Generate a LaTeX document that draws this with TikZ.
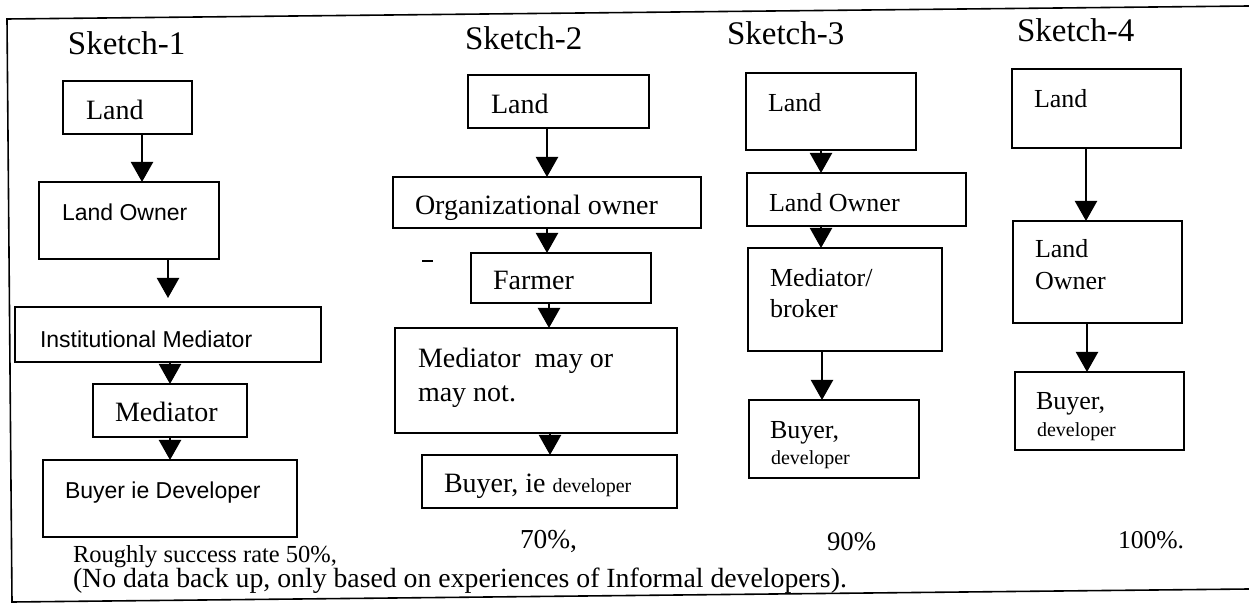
\documentclass[tikz,border=0pt]{standalone}
\usepackage{fontspec}
\setmainfont{Liberation Serif}
\setsansfont{Liberation Sans}
\usetikzlibrary{arrows.meta}
\tikzset{
  box/.style={draw, line width=1.1pt, anchor=north west, inner sep=0pt, outer sep=0pt},
  arr/.style={line width=1.1pt, -{Triangle[width=11pt,length=10pt]}},
  txt/.style={anchor=base west, inner sep=0pt, outer sep=0pt},
  ttl/.style={txt, font=\fontsize{16.5}{19}\selectfont},
  sr/.style={txt, font=\fontsize{14}{16}\selectfont},
  srs/.style={txt, font=\fontsize{13}{15}\selectfont},
  sn/.style={txt, font=\sffamily\fontsize{11.5}{13}\selectfont},
  foot/.style={txt, font=\fontsize{13.5}{15}\selectfont},
}
\newcommand{\dev}{{\fontsize{10}{12}\selectfont developer}}
\begin{document}
\begin{tikzpicture}[x=0.5pt,y=-0.5pt]
\useasboundingbox (0,0) rectangle (1249,604);
% frame
\coordinate (ftr) at (1249,6);
\coordinate (ftl) at (7,19);
\coordinate (fbl) at (12,602);
\coordinate (fbr) at (1249,589);
\draw[line width=0.8pt] (ftr) -- (ftl) -- (fbl) -- (fbr);

% ---------- Sketch-1 ----------
\node[ttl] (t1) at (68,55) {Sketch-1};
\node[box, minimum width=64.5pt, minimum height=26.5pt] (land1) at (63,81) {};
\node[sr] (land1t) at (86,120) {Land};
\node[box, minimum width=90pt, minimum height=38.5pt] (own1) at (39,182) {};
\node[sn] (own1t) at (62,221) {Land Owner};
\node[box, minimum width=153pt, minimum height=27.5pt] (inst1) at (15,307) {};
\node[sn] (inst1t) at (40,348) {Institutional Mediator};
\node[box, minimum width=77pt, minimum height=26.5pt] (med1) at (93,384) {};
\node[sr] (med1t) at (115,422) {Mediator};
\node[box, minimum width=127pt, minimum height=38.5pt] (buy1) at (43,460) {};
\node[sn] (buy1t) at (65,498) {Buyer ie Developer};
\draw[arr] (land1.south -| 142,0) -- (own1.north -| 142,0);
\draw[arr, shorten >=4.5pt] (own1.south -| 168,0) -- (inst1.north -| 168,0);
\draw[arr] (inst1.south -| 170,0) -- (med1.north -| 170,0);
\draw[arr] (med1.south -| 170,0) -- (buy1.north -| 170,0);

% ---------- Sketch-2 ----------
\node[ttl] (t2) at (465,50) {Sketch-2};
\node[box, minimum width=90.5pt, minimum height=26.5pt] (land2) at (468,75) {};
\node[sr] (land2t) at (491,114) {Land};
\node[box, minimum width=154pt, minimum height=25.5pt] (org2) at (393,177) {};
\node[sr] (org2t) at (415,215) {Organizational owner};
\node[box, minimum width=90pt, minimum height=25pt] (farm2) at (471,253) {};
\node[sr] (farm2t) at (493,290) {Farmer};
\node[box, minimum width=141pt, minimum height=52.5pt] (med2) at (395,328) {};
\node[sr] (med2t) at (418,368) {Mediator\ \ may or};
\node[sr] (med2u) at (418,401) {may not.};
\node[box, minimum width=127.5pt, minimum height=26.5pt] (buy2) at (422,455) {};
\node[sr] (buy2t) at (444,493) {Buyer, ie \dev};
\draw[line width=1pt] (422,261) -- (433,261);
\draw[arr] (land2.south -| 547,0) -- (org2.north -| 547,0);
\draw[arr] (org2.south -| 547,0) -- (farm2.north -| 547,0);
\draw[arr] (farm2.south -| 549,0) -- (med2.north -| 549,0);
\draw[arr] (med2.south -| 550,0) -- (buy2.north -| 550,0);

% ---------- Sketch-3 ----------
\node[ttl] (t3) at (727,45) {Sketch-3};
\node[box, minimum width=85pt, minimum height=38.5pt] (land3) at (746,73) {};
\node[srs] (land3t) at (768,112) {Land};
\node[box, minimum width=109.5pt, minimum height=26.5pt] (own3) at (747,173) {};
\node[srs] (own3t) at (769,212) {Land Owner};
\node[box, minimum width=97pt, minimum height=51.5pt] (med3) at (748,248) {};
\node[srs] (med3t) at (770,287) {Mediator/};
\node[srs] (med3u) at (770,318) {broker};
\node[box, minimum width=85pt, minimum height=39pt] (buy3) at (749,400) {};
\node[srs] (buy3t) at (770,438) {Buyer,};
\node[srs] (buy3u) at (771,465) {\dev};
\draw[arr] (land3.south -| 821,0) -- (own3.north -| 821,0);
\draw[arr] (own3.south -| 821,0) -- (med3.north -| 821,0);
\draw[arr] (med3.south -| 822,0) -- (buy3.north -| 822,0);

% ---------- Sketch-4 ----------
\node[ttl] (t4) at (1017,42) {Sketch-4};
\node[box, minimum width=84.5pt, minimum height=39.5pt] (land4) at (1012,69) {};
\node[srs] (land4t) at (1034,108) {Land};
\node[box, minimum width=84.5pt, minimum height=51pt] (own4) at (1013,221) {};
\node[srs] (own4t) at (1035,258) {Land};
\node[srs] (own4u) at (1035,290) {Owner};
\node[box, minimum width=84.5pt, minimum height=39pt] (buy4) at (1015,372) {};
\node[srs] (buy4t) at (1036,410) {Buyer,};
\node[srs] (buy4u) at (1037,437) {\dev};
\draw[arr] (land4.south -| 1086,0) -- (own4.north -| 1086,0);
\draw[arr] (own4.south -| 1087,0) -- (buy4.north -| 1087,0);

% ---------- footer ----------
\node[foot, font=\fontsize{12.25}{14}\selectfont] (r1) at (73,562) {Roughly success rate 50\%,};
\node[foot, font=\fontsize{13.7}{15}\selectfont] (r2) at (520,548) {70\%,};
\node[foot, font=\fontsize{13.4}{15}\selectfont] (r3) at (827,550) {90\%};
\node[foot, font=\fontsize{12.8}{15}\selectfont] (r4) at (1118,548) {100\%.};
\node[foot, font=\fontsize{13.88}{15}\selectfont] (note) at (73,588) {(No data back up, only based on experiences of Informal developers).};
\end{tikzpicture}
\end{document}
